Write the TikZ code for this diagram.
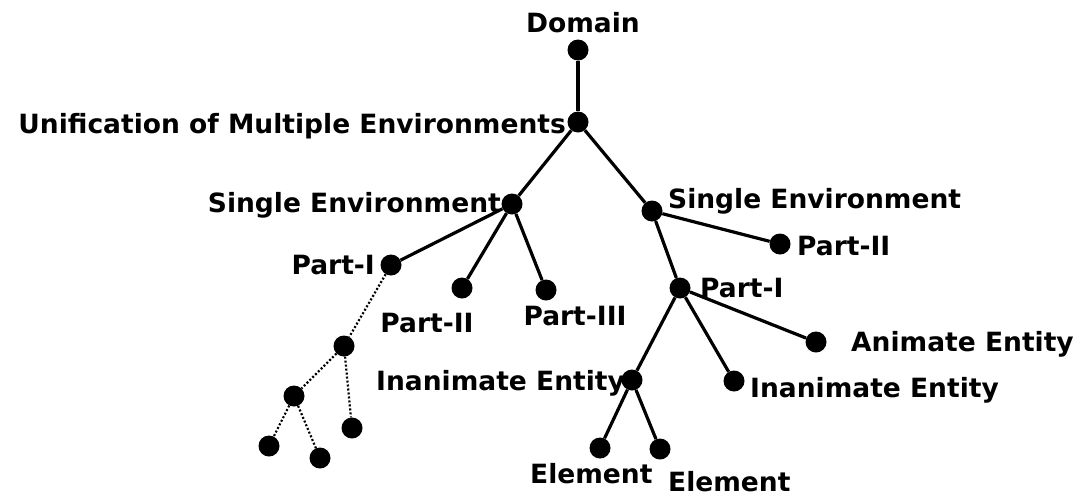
\documentclass[tikz,border=0pt]{standalone}
\usepackage{fontspec}
\setmainfont{DejaVu Sans}
\usetikzlibrary{positioning}

\begin{document}
\begin{tikzpicture}[
    x=1pt, y=-1pt,
    every node/.style={font=\fontsize{26.5}{28}\selectfont\bfseries},
    dot/.style={circle, fill=black, inner sep=0pt, minimum size=21pt},
    txt/.style={inner sep=0pt, anchor=base},
    edge/.style={line width=3.2pt},
    dots/.style={line width=2.2pt, dash pattern=on 2pt off 2pt}
]
\useasboundingbox (0,0) rectangle (1079,496);

% dots
\node[dot] (dom) at (578,50) {};
\node[dot] (uni) at (578,122) {};
\node[dot] (sel) at (512,204) {};
\node[dot] (ser) at (652,211) {};
\node[dot] (pil) at (391,265) {};
\node[dot] (piil) at (462,288) {};
\node[dot] (piii) at (546,290) {};
\node[dot] (piir) at (780,244) {};
\node[dot] (pir) at (680,288) {};
\node[dot] (ani) at (816,342) {};
\node[dot] (inm) at (632,380) {};
\node[dot] (inr) at (734,381) {};
\node[dot] (ela) at (600,448) {};
\node[dot] (elb) at (660,449) {};
\node[dot] (d1) at (344,346) {};
\node[dot] (d2) at (294,396) {};
\node[dot] (d3) at (352,428) {};
\node[dot] (d4) at (269,446) {};
\node[dot] (d5) at (320,458) {};

% texts
\node[txt] (domt) at (583,32) {Domain};
\node[txt, anchor=base east] (unit) at (566,133) {Unification of Multiple Environments};
\node[txt, anchor=base east] (selt) at (501,212) {Single Environment};
\node[txt, anchor=base west] (sert) at (668,208) {Single Environment};
\node[txt, anchor=base east] (pilt) at (375,274) {Part-I};
\node[txt] (piilt) at (427,332) {Part-II};
\node[txt] (piiit) at (575,325) {Part-III};
\node[txt, anchor=base west] (piirt) at (797,255) {Part-II};
\node[txt, anchor=base west] (pirt) at (700,297) {Part-I};
\node[txt, anchor=base west] (anit) at (851,351) {Animate Entity};
\node[txt, anchor=base east] (inmt) at (625,390) {Inanimate Entity};
\node[txt, anchor=base west] (inrt) at (750,397) {Inanimate Entity};
\node[txt, anchor=base west] (elat) at (530,483) {Element};
\node[txt, anchor=base west] (elbt) at (668,491) {Element};

% tree
\draw[edge] (dom) -- (uni);
\draw[edge] (uni) -- (sel);
\draw[edge] (uni) -- (ser);
\draw[edge] (sel) -- (pil);
\draw[edge] (sel) -- (piil);
\draw[edge] (sel) -- (piii);
\draw[edge] (ser) -- (piir);
\draw[edge] (ser) -- (pir);
\draw[edge] (pir) -- (ani);
\draw[edge] (pir) -- (inm);
\draw[edge] (pir) -- (inr);
\draw[edge] (inm) -- (ela);
\draw[edge] (inm) -- (elb);
\draw[dots] (pil) -- (d1);
\draw[dots] (d1) -- (d2);
\draw[dots] (d1) -- (d3);
\draw[dots] (d2) -- (d4);
\draw[dots] (d2) -- (d5);
\end{tikzpicture}
\end{document}
